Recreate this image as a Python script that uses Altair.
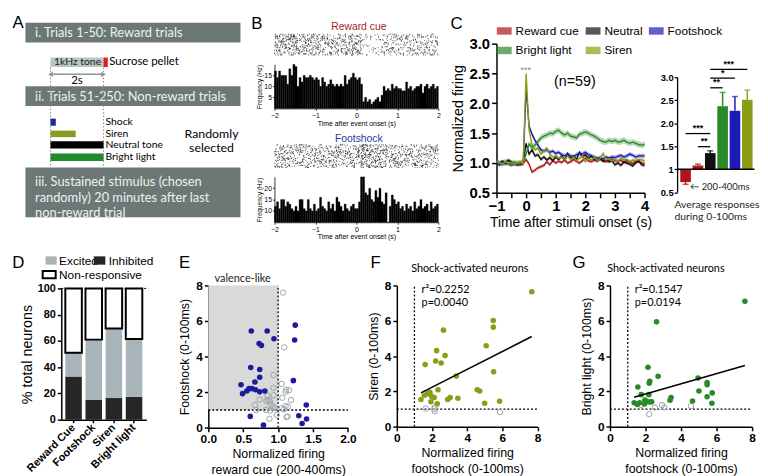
import math
import altair as alt
import pandas as pd

AR = "Liberation Sans, Arial, Helvetica, sans-serif"
LT = "Lato, sans-serif"
DEBUG = False

# ======================= DATA =======================
tone_len = 2.0
pellet_len = 0.16
stim_names = ["Shock", "Siren", "Neutral tone", "Bright light"]
stim_len = [0.2, 0.95, 2.0, 2.0]
stim_colors = ["#1b2a9c", "#8b9b1f", "#000000", "#1f8b2e"]

psth_start = -2.0
psth_bin = 0.05
n_trials = 24
reward_hz = [17, 14, 17, 15, 15, 15, 11, 18, 15, 20,
             19, 10, 14, 12, 15, 14, 14, 15, 14, 13,
             14, 13, 10, 14, 12, 10, 11, 13, 11, 10,
             11, 10, 11, 10, 15, 11, 13, 14, 16, 14,
             13, 14, 11, 3, 5, 3, 4, 2, 3, 4,
             5, 3, 6, 10, 8, 9, 8, 11, 9, 10,
             9, 9, 8, 8, 12, 9, 10, 8, 9, 10,
             10, 11, 7, 10, 11, 9, 10, 11, 9, 10]
foot_hz = [12, 14, 11, 15, 15, 12, 14, 13, 11, 10,
           12, 10, 15, 15, 11, 10, 15, 11, 10, 13,
           10, 11, 16, 12, 11, 10, 14, 11, 13, 10,
           16, 14, 12, 10, 13, 11, 10, 12, 13, 11,
           11, 14, 25, 25, 18, 17, 20, 15, 14, 19,
           16, 20, 14, 13, 18, 5, 12, 17, 15, 13,
           14, 11, 12, 10, 13, 11, 12, 10, 14, 11,
           12, 15, 11, 12, 13, 10, 14, 11, 12, 13]

t_grid = [round(-1.0 + 0.1 * i, 1) for i in range(51)]
c_names = ["Reward cue", "Neutral", "Footshock", "Bright light", "Siren"]
c_colors = ["#b0141c", "#111111", "#1b1bb8", "#2a8a2a", "#8b9c17"]
c_red = [1.02, 1.00, 0.98, 1.01, 0.99, 0.97, 0.99, 0.98, 0.97, 0.99,
         1.06, 0.98, 0.85, 0.88, 0.92, 0.94, 0.96, 1.02, 0.97, 1.04,
         1.00, 1.03, 1.01, 1.05, 1.00, 1.02, 1.06, 1.03, 1.00, 1.04,
         1.08, 1.04, 1.02, 1.05, 1.03, 1.07, 1.04, 1.02, 1.05, 1.06,
         1.04, 1.03, 1.05, 1.01, 1.04, 1.02, 0.99, 1.03, 1.02, 1.00, 0.99]
c_black = [1.01, 0.99, 1.03, 1.00, 1.05, 1.02, 0.98, 1.00, 0.99, 1.01,
           1.33, 1.15, 1.22, 1.12, 1.14, 1.06, 1.10, 1.05, 1.09, 1.04,
           1.10, 1.06, 1.12, 1.05, 1.16, 1.08, 1.12, 1.06, 1.18, 1.10,
           1.14, 1.08, 1.12, 1.06, 1.05, 1.07, 1.03, 1.05, 1.02, 1.04,
           0.97, 1.00, 0.96, 1.02, 1.00, 0.98, 0.95, 1.00, 1.04, 0.97, 0.96]
c_blue = [1.00, 0.97, 1.02, 0.99, 1.01, 0.98, 1.00, 0.97, 1.00, 0.99,
          2.25, 1.62, 1.48, 1.38, 1.30, 1.22, 1.20, 1.22, 1.18, 1.20,
          1.16, 1.18, 1.14, 1.12, 1.15, 1.12, 1.10, 1.14, 1.16, 1.15,
          1.18, 1.14, 1.12, 1.10, 1.08, 1.09, 1.07, 1.10, 1.08, 1.10,
          1.09, 1.11, 1.13, 1.10, 1.12, 1.15, 1.13, 1.10, 1.12, 1.12, 1.12]
c_green = [1.02, 1.00, 0.99, 1.02, 1.00, 0.98, 1.01, 0.99, 1.00, 1.01,
           1.15, 1.32, 1.26, 1.30, 1.36, 1.42, 1.45, 1.47, 1.50, 1.49,
           1.53, 1.55, 1.50, 1.47, 1.50, 1.45, 1.44, 1.42, 1.48, 1.50,
           1.52, 1.50, 1.47, 1.45, 1.42, 1.38, 1.36, 1.35, 1.38, 1.36,
           1.38, 1.35, 1.36, 1.38, 1.35, 1.33, 1.35, 1.33, 1.31, 1.30, 1.31]
c_olive = [1.03, 1.00, 0.98, 1.02, 1.00, 1.01, 0.98, 1.00, 1.02, 0.99,
           2.50, 1.55, 1.30, 1.22, 1.25, 1.15, 1.20, 1.25, 1.14, 1.10,
           1.12, 1.08, 1.10, 1.05, 1.12, 1.06, 1.10, 1.04, 1.08, 1.12,
           1.02, 1.08, 1.05, 1.10, 1.04, 1.08, 1.16, 1.05, 1.07, 1.04,
           1.06, 1.03, 1.08, 1.05, 1.06, 1.02, 1.05, 1.04, 1.06, 1.05, 1.04]
c_vals = [c_red, c_black, c_blue, c_green, c_olive]
c_sem = [0.03, 0.03, 0.035, 0.05, 0.03]

bar_cats = ["Reward cue (200-400ms)", "Reward cue", "Neutral", "Bright light", "Footshock", "Siren"]
bar_vals = [0.72, 1.08, 1.35, 2.37, 2.27, 2.51]
bar_errs = [0.05, 0.03, 0.05, 0.30, 0.31, 0.21]
bar_colors = ["#b0141c", "#b0141c", "#111111", "#2a8a2a", "#1b1bb8", "#8b9c17"]
sig_from = [0, 1, 2, 2, 2]
sig_to = [2, 2, 3, 4, 5]
sig_y = [1.775, 1.49, 2.77, 2.98, 3.17]
sig_txt = ["***", "**", "**", "*", "***"]

d_cats = ["Reward Cue", "Footshock", "Siren", "Bright light"]
d_inhib = [33, 15, 16.5, 17.5]
d_excit = [18, 46, 53, 44]

thresh = 1.0
e_val_x = [0.615, 0.843, 0.727, 0.76, 0.94, 1.245, 1.236, 0.607, 0.736, 0.736, 0.667, 1.218, 0.468,
           0.49, 0.551, 0.583, 0.625, 0.676, 0.736, 0.81, 1.403, 0.601, 0.79, 1.296, 1.343, 1.407]
e_val_y = [5.44, 5.44, 4.74, 4.63, 5.0, 5.77, 4.93, 3.39, 3.28, 2.84, 2.57, 2.65, 2.42,
           1.92, 2.07, 2.2, 2.2, 2.14, 2.02, 2.07, 1.28, 0.64, 0.15, 0.68, 0.24, 0.49]
e_non_x = [1.07, 1.088, 0.935, 1.05, 0.93, 1.115, 1.157, 1.107, 1.185, 1.06, 0.736, 0.847, 0.935, 0.833,
           0.88, 0.893, 0.92, 0.954, 0.667, 0.685, 0.824, 0.885, 0.98, 0.875, 1.083, 1.107, 1.143, 1.12,
           1.135, 1.05, 0.86]
e_non_y = [7.6, 4.52, 2.97, 2.47, 2.25, 2.14, 2.11, 2.02, 1.56, 1.69, 1.59, 1.81, 1.83, 1.5,
           1.5, 1.32, 1.19, 1.1, 1.28, 1.0, 1.0, 0.97, 0.73, 0.51, 1.04, 1.22, 1.19, 0.6,
           0.64, 1.1, 1.56]
f_x = [7.67, 5.48, 5.48, 2.65, 5.08, 2.26, 2.74, 2.21, 2.52, 1.61, 5.5, 3.38, 2.34, 4.57, 4.71, 1.37,
       1.57, 1.75, 1.88, 1.97, 2.12, 1.94, 2.3, 2.89, 3.03, 3.47, 4.99, 5.84]
f_y = [7.64, 6.02, 5.64, 5.47, 4.59, 4.31, 4.03, 3.72, 3.61, 3.52, 3.11, 2.87, 2.1, 2.1, 2.03, 1.55,
       1.79, 1.88, 1.95, 1.73, 1.66, 1.42, 1.31, 1.55, 1.66, 1.62, 1.33, 1.45]
f_nx = [1.64, 2.16, 2.16, 5.86, 2.12]
f_ny = [1.03, 1.1, 0.88, 0.83, 1.0]
g_x = [7.6, 2.62, 2.14, 2.71, 2.24, 2.21, 4.96, 5.47, 5.47, 5.01, 5.76, 5.47, 1.57, 2.19, 1.76, 1.97,
       3.44, 3.38, 4.65, 5.74, 1.36, 1.54, 1.67, 1.94, 2.26, 2.35, 2.12]
g_y = [7.1, 5.94, 3.37, 2.86, 2.58, 2.47, 2.76, 2.51, 2.38, 2.03, 1.92, 1.7, 2.25, 1.82, 1.82, 1.51,
       1.66, 1.5, 1.46, 1.33, 1.36, 1.27, 1.36, 1.29, 1.4, 1.42, 1.42]
g_nx = [1.76, 2.21, 2.53, 2.93, 3.06, 4.56]
g_ny = [1.23, 0.72, 1.09, 1.23, 1.1, 1.18]

# ======================= LAYOUT =======================
SX, SY = 0.977, 0.99
X0, Y0 = 1.0, 4.0


def Lx(x):
    return (x - X0) * SX


def Ly(y):
    return (y - Y0) * SY


PLOT = {
    "A": (2, 5, 246, 217),
    "Brr": (272, 24, 442, 46),
    "Brh": (272, 53.7, 442, 98.7),
    "Bfr": (272, 133, 442, 157),
    "Bfh": (272, 164.2, 442, 210.6),
    "Cl": (500.7, 34, 654.3, 186.7),
    "Cb": (685.7, 69, 766, 186.7),
    "D": (53.3, 282.3, 141.5, 416.7),
    "E": (203.5, 279.3, 348.3, 425),
    "F": (397.3, 279.3, 543.3, 424),
    "G": (616, 279.3, 763.3, 424),
}
CONTENT = {
    "A": (2, 5.5, 246, 217),
    "Brr": (247, 5.5, 449, 48),
    "Brh": (247, 50, 449, 119.5),
    "Bfr": (247, 120.5, 449, 159),
    "Bfh": (247, 160.5, 449, 232),
    "Cl": (451, 5.5, 664, 232),
    "Cb": (666, 50, 770, 224),
    "D": (2, 246, 152, 474),
    "E": (171, 246, 359, 474),
    "F": (366, 246, 554, 474),
    "G": (573, 246, 769, 474),
}
TOP_COLS = [["A"], ["Brr", "Brh", "Bfr", "Bfh"], ["Cl"], ["Cb"]]
BOT_COLS = [["D"], ["E"], ["F"], ["G"]]


def P(nm, x, y):
    l, t = PLOT[nm][0], PLOT[nm][1]
    return float((x - l) * SX), float((y - t) * SY)


def size(nm):
    l, t, r, b = PLOT[nm]
    return float((r - l) * SX), float((b - t) * SY)


ONE = pd.DataFrame({"k": [0]})


def txt(nm, x, y, s, fs, font=AR, color="black", align="left", baseline="middle", weight="normal", angle=0):
    px, py = P(nm, x, y)
    kw = dict(text=s, align=align, baseline=baseline, fontSize=fs, font=font, color=color, fontWeight=weight)
    if angle:
        kw["angle"] = angle
    return alt.Chart(ONE).mark_text(**kw).encode(x=alt.value(px), y=alt.value(py))


def box(nm, x0, y0, x1, y1, fill, stroke=None, sw=0):
    p0 = P(nm, x0, y0)
    p1 = P(nm, x1, y1)
    kw = dict(fill=fill, strokeWidth=sw)
    if stroke:
        kw["stroke"] = stroke
    return alt.Chart(ONE).mark_rect(**kw).encode(x=alt.value(p0[0]), x2=alt.value(p1[0]),
                                                  y=alt.value(p0[1]), y2=alt.value(p1[1]))


A_T0, A_PPS = 42.0, 27.5


def chart_A():
    nm = "A"
    l, t, r, b = PLOT[nm]
    xs = alt.Scale(domain=[(l - A_T0) / A_PPS, (r - A_T0) / A_PPS], nice=False, zero=False)

    def yv(y):
        return alt.value(P(nm, 0, y)[1])

    hdr, htx = "#6c7876", "#eef1f0"
    L = [box(nm, 16, 13, 239, 33, hdr), box(nm, 16, 78, 239, 98, hdr), box(nm, 16, 161, 239, 212, hdr),
         txt(nm, 26, 23.5, "i. Trials 1-50: Reward trials", 13, LT, htx),
         txt(nm, 26, 88.5, "ii. Trials 51-250: Non-reward trials", 13, LT, htx),
         txt(nm, 26, 175.5, "iii. Sustained stimulus (chosen", 13, LT, htx),
         txt(nm, 26, 192, "randomly) 20 minutes after last", 13, LT, htx),
         txt(nm, 26, 208, "non-reward trial", 13, LT, htx)]
    seg = pd.DataFrame({"start": [0.0], "end": [tone_len]})
    pel = pd.DataFrame({"start": [tone_len], "end": [tone_len + pellet_len]})
    L.append(alt.Chart(seg).mark_rect(fill="#b9c4c4", strokeWidth=0).encode(
        x=alt.X("start:Q", scale=xs, axis=None), x2="end:Q", y=yv(48.5), y2=yv(58.3)))
    L.append(alt.Chart(pel).mark_rect(fill="#d9211e", strokeWidth=0).encode(
        x=alt.X("start:Q", scale=xs, axis=None), x2="end:Q", y=yv(48.5), y2=yv(58.3)))
    L.append(txt(nm, 70, 53.5, "1kHz tone", 10.5, LT, "#222", align="center"))
    L.append(txt(nm, 103, 53.5, "Sucrose pellet", 11.5, LT))
    marks = pd.DataFrame({"t": [0.0, tone_len]})
    L.append(alt.Chart(marks).mark_rule(color="#8a8a8a", strokeDash=[1.5, 2], strokeWidth=1).encode(
        x=alt.X("t:Q", scale=xs, axis=None), y=yv(58.5), y2=yv(160)))
    L.append(alt.Chart(seg).mark_rule(color="#8f9696", strokeWidth=1.5).encode(
        x=alt.X("start:Q", scale=xs, axis=None), x2="end:Q", y=yv(65.7)))
    L.append(alt.Chart(seg).mark_point(shape="triangle-left", filled=True, size=30, color="#8f9696", opacity=1).encode(
        x=alt.X("start:Q", scale=xs, axis=None), y=yv(65.7)))
    L.append(alt.Chart(seg).mark_point(shape="triangle-right", filled=True, size=30, color="#8f9696", opacity=1).encode(
        x=alt.X("end:Q", scale=xs, axis=None), y=yv(65.7)))
    L.append(txt(nm, 69.5, 72.5, "2s", 11.5, LT, align="center"))
    ys = [(111, 118.3), (123.3, 130), (134.3, 141.7), (146.7, 154.3)]
    for i in range(4):
        d = pd.DataFrame({"start": [0.0], "end": [stim_len[i]]})
        L.append(alt.Chart(d).mark_rect(fill=stim_colors[i], strokeWidth=0).encode(
            x=alt.X("start:Q", scale=xs, axis=None), x2="end:Q", y=yv(ys[i][0]), y2=yv(ys[i][1])))
        L.append(txt(nm, 99, (ys[i][0] + ys[i][1]) / 2, stim_names[i], 10.5, LT))
    L.append(txt(nm, 209, 127, "Randomly", 12.5, LT, align="center"))
    L.append(txt(nm, 209, 141.5, "selected", 12.5, LT, align="center"))
    L.append(txt(nm, 2.5, 5.6, "A", 17, AR, baseline="top"))
    return L


def h32(a):
    a = (a ^ 61) ^ (a >> 16)
    a = (a + (a << 3)) & 0xFFFFFFFF
    a ^= a >> 4
    a = (a * 0x27D4EB2D) & 0xFFFFFFFF
    a ^= a >> 15
    return a


def chart_raster(nm, hz, title, tcolor, ty, letter=False):
    # raster rows drawn from the PSTH counts of each bin
    rows = []
    for i, v in enumerate(hz):
        n = int(round(v * psth_bin * n_trials))
        for j in range(n):
            key = i * 1000 + j + (0 if letter else 500000)
            rows.append({"t": psth_start + (i + (h32(key + 7777) % 1000) / 1000.0) * psth_bin,
                         "trial": h32(key) % n_trials})
    df = pd.DataFrame(rows)
    ticks = alt.Chart(df).mark_tick(orient="vertical", size=1.2, thickness=0.75, color="#111111").encode(
        x=alt.X("t:Q", scale=alt.Scale(domain=[-2, 2], nice=False, zero=False), axis=None),
        y=alt.Y("trial:Q", scale=alt.Scale(domain=[-0.5, n_trials - 0.5], nice=False, zero=False), axis=None))
    L = [ticks, txt(nm, 359.5, ty, title, 10.5, AR, tcolor, align="center")]
    if letter:
        L.append(txt(nm, 248, 5.6, "B", 17, AR, baseline="top"))
    return L


def chart_hist(nm, hz, ylo, yhi, yvals):
    df = pd.DataFrame({"t0": [psth_start + i * psth_bin for i in range(len(hz))], "hz": hz})
    df["t1"] = df["t0"] + psth_bin
    xa = alt.Axis(values=[-2, -1, 0, 1, 2], title="Time after event onset (s)", labelFontSize=7,
                  labelFontWeight="normal", titleFontSize=7, titlePadding=1, labelPadding=1, tickSize=2,
                  tickWidth=0.8, domainWidth=0.8, labelFlush=False)
    ya = alt.Axis(values=yvals, title="Frequency (Hz)", labelFontSize=7, labelFontWeight="normal",
                  titleFontSize=6.5, titlePadding=1, labelPadding=1, tickSize=2, tickWidth=0.8, domainWidth=0.8)
    bars = alt.Chart(df).mark_rect(fill="black", stroke="black", strokeWidth=0.3).encode(
        x=alt.X("t0:Q", scale=alt.Scale(domain=[-2, 2], nice=False, zero=False), axis=xa),
        x2="t1:Q",
        y=alt.Y("hz:Q", scale=alt.Scale(domain=[ylo, yhi], nice=False, zero=False), axis=ya),
        y2=alt.datum(ylo))
    return [bars]


def chart_Cline():
    nm = "Cl"
    rows = []
    for k, name in enumerate(c_names):
        for t, v in zip(t_grid, c_vals[k]):
            rows.append({"t": t, "s": name, "v": v, "lo": v - c_sem[k], "hi": v + c_sem[k]})
    df = pd.DataFrame(rows)
    cs = alt.Scale(domain=c_names, range=c_colors)
    xs = alt.Scale(domain=[-1, 4], nice=False, zero=False)
    ys = alt.Scale(domain=[0.5, 3.0], nice=False, zero=False)
    xa = alt.Axis(values=[-1, -0.5, 0, 0.5, 1, 1.5, 2, 2.5, 3, 3.5, 4],
                  labelExpr="datum.value % 1 == 0 ? format(datum.value, 'd') : ''",
                  title="Time after stimuli onset (s)", labelFontSize=15, titleFontSize=14,
                  labelPadding=1, titlePadding=2, tickSize=5, labelFlush=False)
    ya = alt.Axis(values=[0.5, 1, 1.5, 2, 2.5, 3], format=".1f", title="Normalized firing",
                  labelFontSize=15, titleFontSize=14.5, titlePadding=4, tickSize=5)
    # the legend is resolved at the root of the composition: coordinates of the whole figure
    leg = alt.Legend(orient="none", legendX=float(Lx(507)), legendY=float(Ly(15.5)), columns=3,
                     direction="horizontal", title=None,
                     symbolType="M-1,-0.5L1,-0.5L1,0.5L-1,0.5Z", symbolSize=225, symbolOpacity=1,
                     symbolStrokeWidth=0, labelFontSize=12, labelFont=AR, labelColor="black",
                     labelFontWeight="normal", columnPadding=6, rowPadding=6, labelOffset=4,
                     labelLimit=200, padding=0)
    band = alt.Chart(df).mark_area(opacity=0.35).encode(
        x=alt.X("t:Q", scale=xs, axis=xa), y=alt.Y("lo:Q", scale=ys, axis=ya), y2="hi:Q",
        color=alt.Color("s:N", scale=cs, legend=leg))
    line = alt.Chart(df).mark_line(strokeWidth=1.4).encode(
        x=alt.X("t:Q", scale=xs, axis=xa), y=alt.Y("v:Q", scale=ys, axis=ya),
        color=alt.Color("s:N", scale=cs, legend=None))
    return [band, line,
            txt(nm, 531, 61, "***", 9, AR, "#888888", align="center"),
            txt(nm, 582, 73.5, "(n=59)", 14.5, AR, align="center"),
            txt(nm, 453, 5.6, "C", 17, AR, baseline="top")]


def chart_Cbar():
    nm = "Cb"
    W, H = size(nm)
    df = pd.DataFrame({"cat": bar_cats, "v": bar_vals, "e": bar_errs, "col": bar_colors})
    df["i"] = list(range(len(df)))
    df["x0"] = df["i"] - 0.43
    df["x1"] = df["i"] + 0.43
    df["tip"] = [v + (e if v >= 1 else -e) for v, e in zip(bar_vals, bar_errs)]
    xs = alt.Scale(domain=[-0.6875, 5.586], nice=False, zero=False)
    ys = alt.Scale(domain=[0.5, 3.0], nice=False, zero=False)
    ya = alt.Axis(values=[0.5, 1, 1.5, 2, 2.5, 3],
                  labelExpr="datum.value == 1 ? '1' : format(datum.value, '.1f')",
                  title=None, labelFontSize=9.5, tickSize=3, domainWidth=1.3, tickWidth=1.3, labelPadding=1)
    col = alt.Color("col:N", scale=None)
    bars = alt.Chart(df).mark_rect().encode(
        x=alt.X("x0:Q", scale=xs, axis=None), x2="x1:Q",
        y=alt.Y("v:Q", scale=ys, axis=ya), y2=alt.datum(1), color=col)
    err = alt.Chart(df).mark_rule(strokeWidth=1.5).encode(
        x=alt.X("i:Q", scale=xs, axis=None), y=alt.Y("v:Q", scale=ys, axis=ya), y2="tip:Q", color=col)
    cap = alt.Chart(df).mark_tick(orient="horizontal", size=6, thickness=1.5).encode(
        x=alt.X("i:Q", scale=xs, axis=None), y=alt.Y("tip:Q", scale=ys, axis=ya), color=col)
    base = alt.Chart(pd.DataFrame({"b": [1.0]})).mark_rule(color="black", strokeWidth=1.5).encode(
        x=alt.value(0), x2=alt.value(W), y=alt.Y("b:Q", scale=ys, axis=ya))
    sig = pd.DataFrame({"a": sig_from, "b": sig_to, "y": sig_y, "lab": sig_txt})
    sig["mid"] = (sig["a"] + sig["b"]) / 2.0
    sl = alt.Chart(sig).mark_rule(color="black", strokeWidth=1.3).encode(
        x=alt.X("a:Q", scale=xs, axis=None), x2="b:Q", y=alt.Y("y:Q", scale=ys, axis=ya))
    st = alt.Chart(sig).mark_text(baseline="bottom", dy=-0.5, fontSize=9, font=AR, fontWeight="bold").encode(
        x=alt.X("mid:Q", scale=xs, axis=None), y=alt.Y("y:Q", scale=ys, axis=ya), text="lab:N")
    return [bars, err, cap, base, sl, st,
            txt(nm, 699, 181.5, "\u2190 200-400ms", 9.5, LT, "#222"),
            txt(nm, 683, 199.5, "Average responses", 10.5, LT, "#222"),
            txt(nm, 683, 212.5, "during 0-100ms", 10.5, LT, "#222")]


def chart_D():
    nm = "D"
    W, H = size(nm)
    inh = pd.DataFrame({"cat": d_cats, "y0": [0] * 4, "y1": d_inhib})
    exc = pd.DataFrame({"cat": d_cats, "y0": d_inhib, "y1": [i + e for i, e in zip(d_inhib, d_excit)]})
    non = pd.DataFrame({"cat": d_cats, "y0": [i + e for i, e in zip(d_inhib, d_excit)], "y1": [100] * 4})
    xs = alt.Scale(domain=d_cats, paddingInner=0.18, paddingOuter=0.2)
    ys = alt.Scale(domain=[0, 100], nice=False)
    xa = alt.Axis(title=None, labelAngle=315, labelAlign="right", labelBaseline="middle", labelFontSize=11,
                  labelPadding=3, tickSize=3)
    ya = alt.Axis(values=[0, 20, 40, 60, 80, 100], title="% total neurons", labelFontSize=11,
                  titleFontSize=14.5, titlePadding=3, tickSize=4)

    def seg(df, **kw):
        return alt.Chart(df).mark_bar(**kw).encode(
            x=alt.X("cat:N", scale=xs, axis=xa), y=alt.Y("y0:Q", scale=ys, axis=ya), y2="y1:Q")

    top = alt.Chart(pd.DataFrame({"v": [100]})).mark_rule(color="black", strokeDash=[2, 2], strokeWidth=1).encode(
        x=alt.value(0), x2=alt.value(W + 2), y=alt.Y("v:Q", scale=ys, axis=ya))
    return [seg(inh, fill="#262626", strokeWidth=0), seg(exc, fill="#a9b4ba", strokeWidth=0),
            seg(non, fill="white", stroke="black", strokeWidth=2), top,
            box(nm, 37, 249.5, 48.5, 258, "#a9b4ba"), txt(nm, 51, 254, "Excited", 12),
            box(nm, 87, 249.5, 99, 258, "#262626"), txt(nm, 102.5, 254, "Inhibited", 12),
            box(nm, 34, 264.5, 47.5, 272, "white", "black", 2), txt(nm, 51, 268.5, "Non-responsive", 12),
            txt(nm, 2.5, 248, "D", 17, AR, baseline="top")]


def scatter(nm, xmax, xvals, xfmt, ytitle, xtitle, rx, ry, nx, ny, color, letter, lx,
            shade=False, reg=False, stats=None, title=None):
    xs = alt.Scale(domain=[0, xmax], nice=False, zero=False)
    ys = alt.Scale(domain=[0, 8], nice=False, zero=False)
    xa = alt.Axis(values=xvals, format=xfmt, title=xtitle, labelFontSize=12, titleFontSize=12.5,
                  titleLineHeight=16, titlePadding=3, labelPadding=2, tickSize=4, labelFlush=False)
    ya = alt.Axis(values=[0, 2, 4, 6, 8], format="d", title=ytitle, labelFontSize=12, titleFontSize=12.5,
                  titlePadding=4, tickSize=4)

    def X(f):
        return alt.X(f, scale=xs, axis=xa)

    def Y(f):
        return alt.Y(f, scale=ys, axis=ya)

    L = []
    if shade:
        sh = pd.DataFrame({"x": [0.0], "x2": [thresh], "y": [thresh], "y2": [8.0]})
        L.append(alt.Chart(sh).mark_rect(fill="#d9d9d9", strokeWidth=0).encode(
            x=X("x:Q"), x2="x2:Q", y=Y("y:Q"), y2="y2:Q"))
    vl = pd.DataFrame({"x": [thresh], "y": [0.0], "y2": [8.0]})
    hl = pd.DataFrame({"x": [0.0], "x2": [xmax], "y": [thresh]})
    L.append(alt.Chart(vl).mark_rule(color="black", strokeDash=[2, 2], strokeWidth=1.3).encode(
        x=X("x:Q"), y=Y("y:Q"), y2="y2:Q"))
    L.append(alt.Chart(hl).mark_rule(color="black", strokeDash=[2, 2], strokeWidth=1.3).encode(
        x=X("x:Q"), x2="x2:Q", y=Y("y:Q")))
    ndf = pd.DataFrame({"x": nx, "y": ny})
    rdf = pd.DataFrame({"x": rx, "y": ry})
    L.append(alt.Chart(ndf).mark_point(filled=False, color="#9aa4a8", size=30, strokeWidth=1, opacity=1).encode(
        x=X("x:Q"), y=Y("y:Q")))
    L.append(alt.Chart(rdf).mark_circle(size=32, color=color, opacity=1).encode(x=X("x:Q"), y=Y("y:Q")))
    if reg:
        L.append(alt.Chart(rdf).transform_regression("x", "y").mark_line(color="black", strokeWidth=1.5).encode(
            x=X("x:Q"), y=Y("y:Q")))
    if stats:
        sx0 = PLOT[nm][0] + 25.7
        L.append(txt(nm, sx0, 284, stats[0], 11, LT))
        L.append(txt(nm, sx0, 297.5, stats[1], 11, LT))
    if title:
        L.append(txt(nm, title[1], 262.5, title[0], 11, LT, align="center"))
    L.append(txt(nm, lx, 248, letter, 17, AR, baseline="top"))
    return L


def chart_E():
    L = scatter("E", 2.0, [0, 0.5, 1, 1.5, 2], ".1f", "Footshock (0-100ms)",
                ["Normalized firing", "reward cue (200-400ms)"], e_val_x, e_val_y, e_non_x, e_non_y,
                "#1b1b9c", "E", 173, shade=True)
    return L + [txt("E", 210, 273, "valence-like", 11, LT, "#222")]


def chart_F():
    return scatter("F", 8.0, [0, 2, 4, 6, 8], "d", "Siren (0-100ms)",
                   ["Normalized firing", "footshock (0-100ms)"], f_x, f_y, f_nx, f_ny, "#8b9c17", "F", 370,
                   reg=True, stats=["r\u00b2=0.2252", "p=0.0040"], title=("Shock-activated neurons", 473))


def chart_G():
    return scatter("G", 8.0, [0, 2, 4, 6, 8], "d", "Bright light (0-100ms)",
                   ["Normalized firing", "footshock (0-100ms)"], g_x, g_y, g_nx, g_ny, "#2a8a2a", "G", 577,
                   reg=True, stats=["r\u00b2=0.1547", "p=0.0194"], title=("Shock-activated neurons", 674))


BUILD = {
    "A": chart_A,
    "Brr": lambda: chart_raster("Brr", reward_hz, "Reward cue", "#a3262a", 17.3, letter=True),
    "Brh": lambda: chart_hist("Brh", reward_hz, 0, 20, [5, 10, 15]),
    "Bfr": lambda: chart_raster("Bfr", foot_hz, "Footshock", "#2b3aa6", 128),
    "Bfh": lambda: chart_hist("Bfh", foot_hz, 5, 25, [10, 15, 20]),
    "Cl": chart_Cline,
    "Cb": chart_Cbar,
    "D": chart_D,
    "E": chart_E,
    "F": chart_F,
    "G": chart_G,
}


def spacer(w, h):
    kw = dict(fill="white", opacity=0)
    if DEBUG:
        kw = dict(fill="none", stroke="blue", strokeWidth=0.6)
    return alt.Chart(ONE).mark_rect(**kw).encode(
        x=alt.value(0), x2=alt.value(float(w)), y=alt.value(0), y2=alt.value(float(h))
    ).properties(width=float(w), height=float(h))


def panel(nm, left, right, above, below):
    W, H = size(nm)
    kw = dict(fill="white", opacity=0)
    if DEBUG:
        kw = dict(fill="none", stroke="red", strokeWidth=0.6)
    anchor = alt.Chart(ONE).mark_rect(**kw).encode(
        x=alt.value(float(-left)), x2=alt.value(float(right)),
        y=alt.value(float(-above)), y2=alt.value(float(below)))
    return alt.layer(*BUILD[nm](), anchor).properties(width=W, height=H)


def build_row(cols, R, first_h):
    info = []
    for col in cols:
        X = int(round(Lx(PLOT[col[0]][0])))
        cl = min(Lx(CONTENT[n][0]) for n in col)
        cr = max(Lx(CONTENT[n][2]) for n in col)
        info.append((X, cl, cr))
    w0 = max(1, int(math.floor(info[0][1])))
    lefts, rights = [], []
    prev_end = w0
    for X, cl, cr in info:
        lefts.append(X - prev_end)
        r = int(math.ceil(cr - X))
        rights.append(r)
        prev_end = X + r
    items = [spacer(w0, first_h)]
    for col, lf, rt in zip(cols, lefts, rights):
        T = [int(round(Ly(PLOT[n][1]))) for n in col]
        ct = [Ly(CONTENT[n][1]) for n in col]
        cb = [Ly(CONTENT[n][3]) for n in col]
        h0 = max(1, int(math.floor(ct[0] - R)))
        vitems = [spacer(1, h0)]
        y_end = R + h0
        for k, n in enumerate(col):
            above = T[k] - y_end
            below = int(math.ceil(cb[k] - T[k]))
            vitems.append(panel(n, lf, rt, above, below))
            y_end = T[k] + below
        items.append(alt.vconcat(*vitems, spacing=0))
    return items


# the first spacer of the top row is taller than anything in that row: the bottom row starts there
bottom_top = min(Ly(CONTENT[n][1]) for col in BOT_COLS for n in col)
R1 = int(math.floor(bottom_top)) - 1
top_items = build_row(TOP_COLS, 0, R1)
bot_items = build_row(BOT_COLS, R1, 1)

top_row = alt.hconcat(*top_items, spacing=0)
bot_row = alt.hconcat(*bot_items, spacing=0)

chart = alt.vconcat(top_row, bot_row, spacing=0).properties(
    padding=0, background="white"
).configure_view(stroke="transparent").configure_axis(
    grid=False, domainColor="black", tickColor="black", labelColor="black", titleColor="black",
    labelFont=AR, titleFont=AR, labelFontWeight="bold", titleFontWeight="normal",
    domainWidth=1.5, tickWidth=1.5
)

chart.save("out.html", embed_options={"renderer": "svg", "actions": False})
